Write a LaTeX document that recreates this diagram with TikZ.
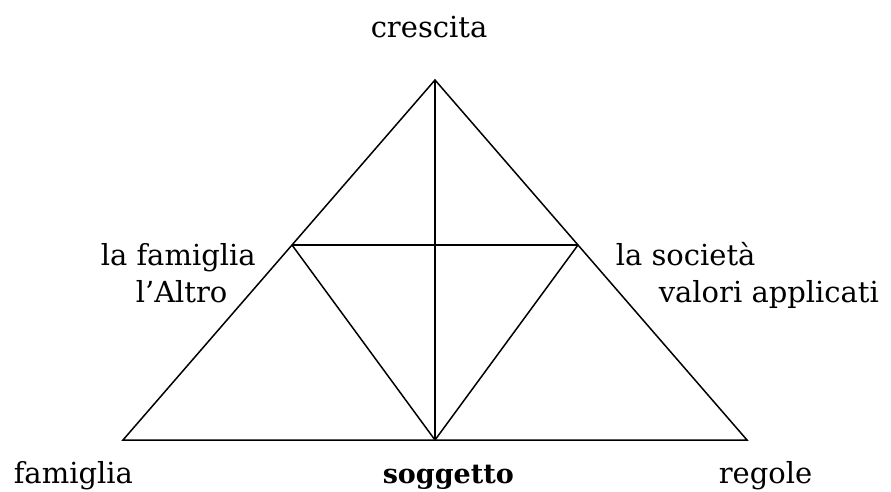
\documentclass[tikz,border=0pt]{standalone}
\usepackage{fontspec}
\setmainfont{DejaVu Serif}
\usepackage{tikz}

\begin{document}
\begin{tikzpicture}[x=1pt, y=-1pt, line width=1.5pt,
        lbl/.style={inner sep=0pt, anchor=base west, font=\fontsize{29}{34}\selectfont}]
            \useasboundingbox (0,0) rectangle (891,492);

            \coordinate (T) at (435,80);
            \coordinate (L) at (123,440);
            \coordinate (R) at (747,440);
            \coordinate (B) at (435,440);
            \coordinate (ML) at (292,245);
            \coordinate (MR) at (578,245);

            \node[lbl] (cresc) at (370,38) {crescita};
            \node[lbl] (fam1) at (100,265) {la famiglia};
            \node[lbl] (altro) at (135,302) {l’Altro};
            \node[lbl] (soc) at (615,265) {la società};
            \node[lbl] (val) at (658,302) {valori applicati};
            \node[lbl] (fam2) at (13,483) {famiglia};
            \node[lbl, font=\fontsize{27}{32}\selectfont\bfseries] (sogg) at (382,483) {soggetto};
            \node[lbl] (reg) at (718,483) {regole};

            \draw (L) -- (T) -- (R) -- cycle;
            \draw (T) -- (B);
            \draw (ML) -- (MR);
            \draw (ML) -- (B);
            \draw (MR) -- (B);
        \end{tikzpicture}
\end{document}
